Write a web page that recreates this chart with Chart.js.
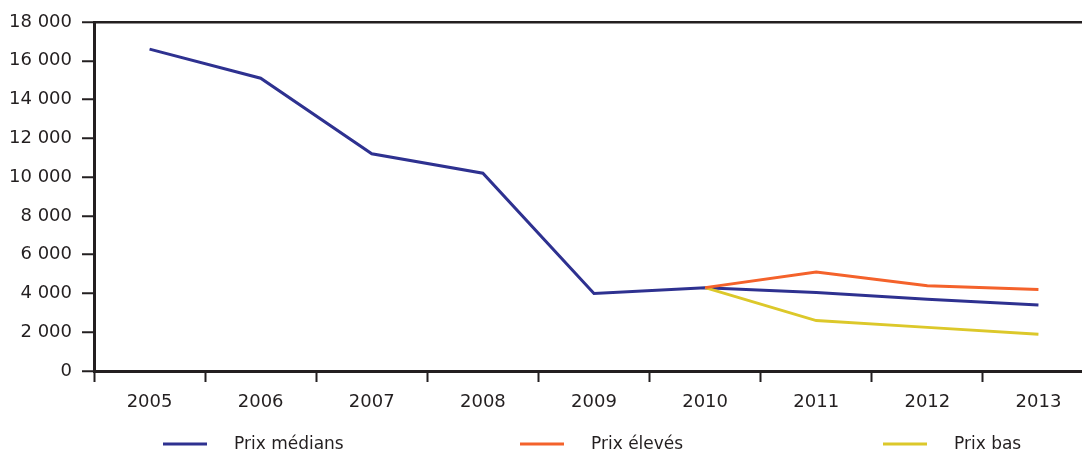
<!DOCTYPE html>
<html lang="fr">
<head>
<meta charset="utf-8">
<title>Prix</title>
<script src="https://cdn.jsdelivr.net/npm/chart.js@4/dist/chart.umd.min.js"></script>
<style>
  html, body { margin: 0; padding: 0; background: #ffffff; overflow: hidden; }
  #wrap { width: 1094px; height: 454px; }
</style>
</head>
<body>
<div id="wrap"><canvas id="chart" width="1094" height="454"></canvas></div>
<script>
// Années
const years = ['2005', '2006', '2007', '2008', '2009', '2010', '2011', '2012', '2013'];

// Séries
const prixMedians = [16600, 15100, 11200, 10200, 4000, 4300, 4050, 3700, 3400];
const prixEleves  = [null, null, null, null, null, 4300, 5100, 4400, 4200];
const prixBas     = [null, null, null, null, null, 4300, 2600, 2250, 1900];

// Graduations de l'axe vertical
const yMin = 0;
const yMax = 18000;
const yStep = 2000;

const INK = '#231f20';
const FONT = '"DejaVu Sans", sans-serif';

// Légende sur trois colonnes, sous le graphique
const columnLegend = {
  id: 'columnLegend',
  afterDraw(chart, args, opts) {
    const ctx = chart.ctx;
    ctx.save();
    ctx.font = opts.font;
    ctx.textBaseline = 'middle';
    ctx.textAlign = 'left';
    chart.data.datasets.forEach((ds, i) => {
      const x = opts.columns[i];
      const y = opts.y;
      ctx.strokeStyle = ds.borderColor;
      ctx.lineWidth = 3;
      ctx.beginPath();
      ctx.moveTo(x, y);
      ctx.lineTo(x + opts.lineLength, y);
      ctx.stroke();
      ctx.fillStyle = opts.color;
      ctx.fillText(ds.label, x + opts.textOffset, y + 1);
    });
    ctx.restore();
  }
};

new Chart(document.getElementById('chart'), {
  type: 'line',
  data: {
    labels: years,
    datasets: [
      { label: 'Prix médians', data: prixMedians, borderColor: '#2e3190', order: 1 },
      { label: 'Prix élevés',  data: prixEleves,  borderColor: '#f4622b', order: 0 },
      { label: 'Prix bas',     data: prixBas,     borderColor: '#dcc82a', order: 0 }
    ]
  },
  options: {
    responsive: false,
    animation: false,
    layout: { padding: { top: 22, left: 0, right: 0, bottom: 0 } },
    elements: {
      line: { borderWidth: 3, tension: 0, fill: false, borderCapStyle: 'butt', borderJoinStyle: 'miter' },
      point: { radius: 0, hoverRadius: 0 }
    },
    spanGaps: false,
    plugins: {
      legend: { display: false },
      tooltip: { enabled: false },
      columnLegend: {
        columns: [163, 520, 883],
        y: 444,
        lineLength: 44,
        textOffset: 71,
        font: '17px ' + FONT,
        color: INK
      }
    },
    scales: {
      x: {
        type: 'category',
        offset: true,
        border: { display: true, color: INK, width: 3 },
        grid: {
          display: true,
          offset: true,
          drawOnChartArea: false,
          tickLength: 11,
          tickColor: INK,
          tickWidth: 2
        },
        ticks: {
          color: INK,
          font: { family: FONT, size: 18 },
          padding: 10,
          maxRotation: 0,
          autoSkip: false
        },
        afterFit(scale) { scale.height = 83; }
      },
      y: {
        min: yMin,
        max: yMax,
        border: { display: true, color: INK, width: 3 },
        grid: {
          display: true,
          drawOnChartArea: true,
          color: (c) => (c.tick && c.tick.value === yMax ? INK : 'rgba(0,0,0,0)'),
          lineWidth: 2.5,
          tickLength: 12,
          tickColor: INK,
          tickWidth: 2
        },
        ticks: {
          stepSize: yStep,
          color: INK,
          font: { family: FONT, size: 18 },
          padding: 10,
          callback: (v) => v.toLocaleString('fr-FR').replace(/[\u202f\u00a0]/g, ' ')
        },
        afterFit(scale) { scale.width = 94; }
      }
    }
  },
  plugins: [columnLegend]
});
</script>
</body>
</html>
